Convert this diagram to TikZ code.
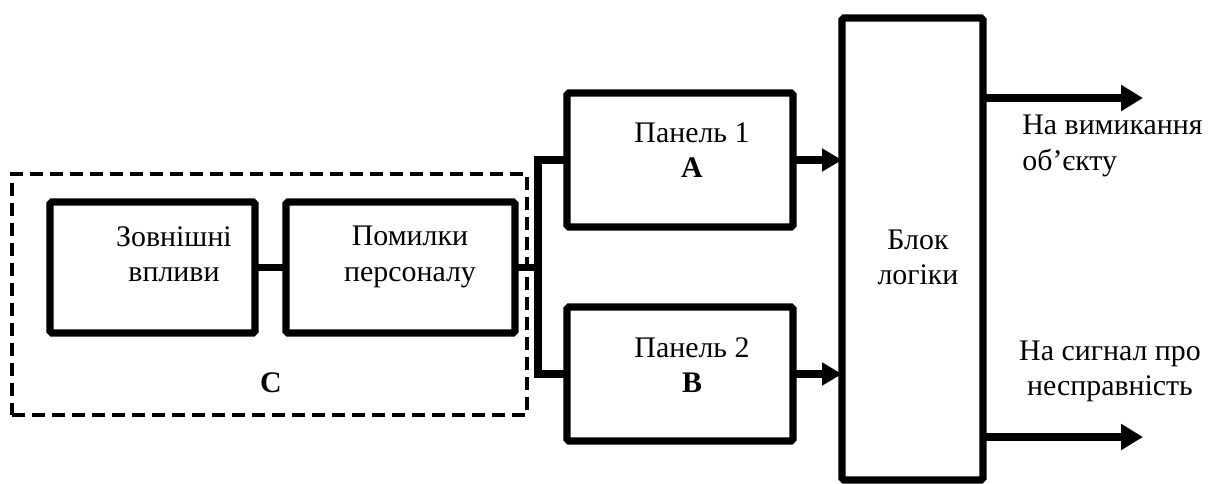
\documentclass[tikz,border=0pt]{standalone}
\usepackage{fontspec}
\setmainfont{Liberation Serif}
\usetikzlibrary{positioning,arrows.meta}

\begin{document}
\begin{tikzpicture}[
  font=\fontsize{17}{20}\selectfont,
  korobka/.style={draw, line width=4pt, outer sep=0pt, inner sep=0pt, rounded corners=1pt},
  zona/.style={draw, line width=2.8pt, dash pattern=on 0.26cm off 0.14cm, outer sep=0pt, inner sep=0pt},
  napys/.style={inner sep=0pt, align=center},
  lin/.style={line width=4pt},
  strilka/.style={line width=4pt, -{Triangle[length=4mm, width=4.4mm]}},
  vyhid/.style={line width=4.4pt, -{Triangle[length=4.4mm, width=5mm]}}]
\useasboundingbox (0,0) rectangle (24.38,-9.66);
% zona C
\node[zona, minimum width=10.3cm, minimum height=4.82cm] (grupa) at (5.39,-5.89) {};
\node[korobka, minimum width=4.1cm, minimum height=2.62cm] (zovn) at (3.05,-5.35) {};
\node[korobka, minimum width=4.58cm, minimum height=2.62cm, right=0.62cm of zovn] (pomyl) {};
\node[napys] (zovn-t) at ([shift={(0.43,0.26)}]zovn.center) {Зовнішні\\впливи};
\node[napys] (pomyl-t) at ([shift={(0.19,0.21)}]pomyl.center) {Помилки\\персоналу};
\node[napys] (mitka) at (5.42,-7.65) {\textbf{C}};
% paneli
\node[korobka, minimum width=4.52cm, minimum height=2.68cm] (pan1) at (13.6,-3.2) {};
\node[korobka, minimum width=4.52cm, minimum height=2.68cm, below=1.6cm of pan1] (pan2) {};
\node[napys] (pan1-t) at ([shift={(0.24,0.19)}]pan1.center) {Панель 1\\\textbf{A}};
\node[napys] (pan2-t) at ([shift={(0.24,0.18)}]pan2.center) {Панель 2\\\textbf{B}};
% blok logiky
\node[korobka, minimum width=2.82cm, minimum height=9.24cm] (logika) at (18.25,-4.98) {};
\node[napys] (logika-t) at ([shift={(0.11,-0.17)}]logika.center) {Блок\\логіки};
% vyhody
\coordinate (kin1) at (22.86,-1.96);
\coordinate (kin2) at (22.86,-8.74);
\node[napys, anchor=west, align=left] (vyh1-t) at (20.44,-2.92) {На вимикання\\об’єкту};
\node[napys] (vyh2-t) at (22.2,-7.42) {На сигнал про\\несправність};
% zvjazky
\draw[lin] (zovn) -- (pomyl);
\draw[lin] (pomyl.east) -- ++(0.46,0) coordinate (rozg);
\draw[lin] (pan1.west) -| (rozg) |- (pan2.west);
\foreach \p in {pan1, pan2} \draw[strilka] (\p.east) -- (\p.east -| logika.west);
\foreach \k in {kin1, kin2} \draw[vyhid] (logika.east |- \k) -- (\k);
\end{tikzpicture}
\end{document}
